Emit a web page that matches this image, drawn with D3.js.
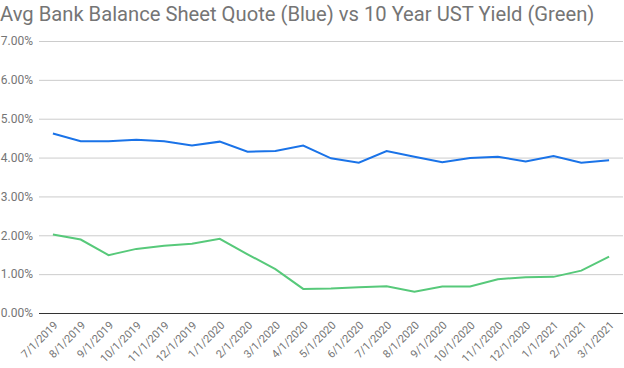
<!DOCTYPE html>
<html>
<head>
<meta charset="utf-8">
<script src="https://cdn.jsdelivr.net/npm/d3@7"></script>
<style>
  body { margin: 0; background: #fff; }
  text { font-family: Roboto, "Noto Sans", sans-serif; }
</style>
</head>
<body>
<div id="chart"></div>
<script>
// Data
let months = ["7/1/2019", "8/1/2019", "9/1/2019", "10/1/2019", "11/1/2019", "12/1/2019",
    "1/1/2020", "2/1/2020", "3/1/2020", "4/1/2020", "5/1/2020", "6/1/2020", "7/1/2020",
    "8/1/2020", "9/1/2020", "10/1/2020", "11/1/2020", "12/1/2020", "1/1/2021", "2/1/2021", "3/1/2021"];
let bankQuote = [4.62, 4.42, 4.42, 4.46, 4.42, 4.31, 4.41, 4.15, 4.17, 4.31, 3.98,
    3.87, 4.17, 4.02, 3.88, 3.99, 4.02, 3.90, 4.04, 3.87, 3.93];
let ustYield = [2.02, 1.89, 1.49, 1.65, 1.73, 1.78, 1.91, 1.51, 1.13, 0.62, 0.63,
    0.66, 0.69, 0.55, 0.68, 0.68, 0.87, 0.92, 0.93, 1.09, 1.45];
let yTicks = [0, 1, 2, 3, 4, 5, 6, 7];

let width = 624, height = 368;
let margin = { top: 41, right: 1, bottom: 55, left: 39 };

let svg = d3.select("#chart").append("svg")
    .attr("width", width)
    .attr("height", height);

svg.append("text")
    .attr("x", 0)
    .attr("y", 21)
    .attr("font-size", 20.2)
    .attr("fill", "#757575")
    .text("Avg Bank Balance Sheet Quote (Blue) vs 10 Year UST Yield (Green)");

let x = d3.scalePoint()
    .domain(months)
    .range([margin.left, width - margin.right])
    .padding(0.5);

let y = d3.scaleLinear()
    .domain([0, 7])
    .range([height - margin.bottom, margin.top]);

// gridlines + y labels
let yAxis = svg.append("g")
    .attr("transform", `translate(${margin.left},0)`)
    .call(d3.axisLeft(y)
        .tickValues(yTicks)
        .tickSize(-(width - margin.left - margin.right))
        .tickPadding(6)
        .tickFormat(d => d.toFixed(2) + "%"));
yAxis.select(".domain").remove();
yAxis.selectAll(".tick line").attr("stroke", "#cccccc");
yAxis.selectAll(".tick text")
    .attr("fill", "#757575")
    .attr("font-size", 12)
    .attr("font-family", "Roboto, sans-serif");
yAxis.selectAll(".tick").filter(d => d === 0).select("line").attr("stroke", "#333333");

// x labels
let xAxis = svg.append("g")
    .attr("transform", `translate(0,${height - margin.bottom})`)
    .call(d3.axisBottom(x).tickSize(0).tickPadding(0));
xAxis.select(".domain").remove();
xAxis.selectAll(".tick text")
    .attr("fill", "#757575")
    .attr("font-size", 11)
    .attr("font-family", "Roboto, sans-serif")
    .attr("text-anchor", "end")
    .attr("dy", 0)
    .attr("transform", "translate(5,13) rotate(-45)");

let line = d3.line()
    .x((d, i) => x(months[i]))
    .y(d => y(d));

svg.append("path")
    .datum(ustYield)
    .attr("fill", "none")
    .attr("stroke", "#57c97a")
    .attr("stroke-width", 2)
    .attr("d", line);

svg.append("path")
    .datum(bankQuote)
    .attr("fill", "none")
    .attr("stroke", "#1a73e8")
    .attr("stroke-width", 2)
    .attr("d", line);
</script>
</body>
</html>
